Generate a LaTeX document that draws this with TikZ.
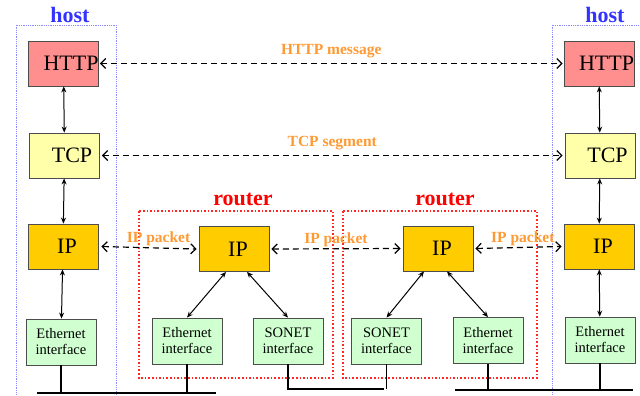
\documentclass[tikz,border=0pt]{standalone}
\usepackage{fontspec}
\setmainfont{Liberation Serif}
\usetikzlibrary{arrows.meta}

\definecolor{httpred}{RGB}{255,143,143}
\definecolor{tcpyellow}{RGB}{255,255,170}
\definecolor{ipgold}{RGB}{255,204,0}
\definecolor{ifgreen}{RGB}{208,255,208}
\definecolor{pduorange}{RGB}{255,153,51}
\definecolor{hostblue}{RGB}{51,51,255}
\definecolor{hostline}{RGB}{140,140,255}

\begin{document}
\begin{tikzpicture}[x=1pt, y=-1pt,
    box/.style={draw=black!70, line width=0.8pt, minimum width=70pt,
      minimum height=45pt, inner sep=0pt,
      font=\fontsize{22}{24}\selectfont},
    httpbox/.style={box, fill=httpred, execute at begin node=\hspace*{15pt}},
    tcpbox/.style={box, fill=tcpyellow, execute at begin node=\hspace*{15pt}},
    ipbox/.style={box, fill=ipgold, execute at begin node=\hspace*{8pt}},
    ifbox/.style={box, fill=ifgreen, minimum height=46pt, align=center,
      font=\fontsize{14.5}{16}\selectfont},
    pdu/.style={font=\bfseries\fontsize{15.5}{17}\selectfont,
      text=pduorange, inner sep=1.5pt},
    boxtitle/.style={font=\bfseries\fontsize{22}{24}\selectfont},
    peer/.style={<->, dash pattern=on 6pt off 4pt, line width=1.2pt,
      >={Straight Barb[length=5pt,width=10pt]}},
    stack/.style={<->, line width=1pt, >={Stealth[length=6pt,width=5pt]}},
    bus/.style={line width=1.6pt}]
  \useasboundingbox (0,0) rectangle (640,396);

  % hosts and routers
  \draw[hostline, densely dotted, line width=0.8pt]
    (16,400) |- (116,25) -- (116,400);
  \draw[hostline, densely dotted, line width=0.8pt] (552,400) |- (644,25);
  \draw[red!85!white, dotted, line width=1.6pt] (139,211) rectangle (333,378);
  \draw[red!85!white, dotted, line width=1.6pt] (343,211) rectangle (537,378);
  \node[boxtitle, text=hostblue] (host1) at (70,15) {host};
  \node[boxtitle, text=hostblue] (host2) at (605,15) {host};
  \node[boxtitle, text=red] (router1) at (243,199) {router};
  \node[boxtitle, text=red] (router2) at (445,199) {router};

  \begin{scope}
    \node[httpbox] (lhttp) at (63.5,63.5) {HTTP};
    \node[tcpbox] (ltcp) at (64.5,155.5) {TCP};
    \node[ipbox] (lip) at (63,246.5) {IP};
    \node[ifbox] (leth) at (61,342) {Ethernet\\interface};
  \end{scope}

  \begin{scope}
    \node[ipbox] (r1ip) at (234,249) {IP};
    \node[ifbox] (r1eth) at (187,341) {Ethernet\\interface};
    \node[ifbox] (r1son) at (288,341) {SONET\\interface};
    \node[ipbox] (r2ip) at (438,248.5) {IP};
    \node[ifbox] (r2son) at (386.5,341) {SONET\\interface};
    \node[ifbox] (r2eth) at (488,340.5) {Ethernet\\interface};
  \end{scope}

  \begin{scope}
    \node[httpbox] (rhttp) at (599,63.5) {HTTP};
    \node[tcpbox] (rtcp) at (600,155.5) {TCP};
    \node[ipbox] (rip) at (599,246.5) {IP};
    \node[ifbox] (reth) at (600,340) {Ethernet\\interface};
  \end{scope}

  % links
  \coordinate (busLw) at (37,393); \coordinate (busLe) at (216,393);
  \coordinate (busMw) at (287,389); \coordinate (busMe) at (384,389);
  \coordinate (busRw) at (455,390); \coordinate (busRe) at (633,390);

  \begin{scope}[bus]
    \draw (busLw) -- (busLe); \draw (busMw) -- (busMe);
    \draw (busRw) -- (busRe);
    \draw (leth.south) -- (leth.south |- busLw);
    \draw (r1eth.south) -- (r1eth.south |- busLw);
    \draw (r1son.south) -- (r1son.south |- busMw);
    \draw (r2son.south) -- (r2son.south |- busMw);
    \draw (r2eth.south) -- (r2eth.south |- busRw);
    \draw (reth.south) -- (reth.south |- busRw);
  \end{scope}

  \begin{scope}[stack]
    \draw (lhttp) -- (ltcp); \draw (ltcp) -- (lip); \draw (lip) -- (leth);
    \draw (rhttp) -- (rtcp); \draw (rtcp) -- (rip); \draw (rip) -- (reth);
    \draw ([xshift=-8pt]r1ip.south) -- (r1eth.north);
    \draw ([xshift=13pt]r1ip.south) -- (r1son.north);
    \draw ([xshift=-14pt]r2ip.south) -- (r2son.north);
    \draw ([xshift=9pt]r2ip.south) -- (r2eth.north);
  \end{scope}

  \begin{scope}[peer]
    \draw ([xshift=1pt]lhttp.east) -- node[pdu, above=3pt] {HTTP message}
      ([xshift=-1pt]rhttp.west);
    \draw ([xshift=2pt]ltcp.east) -- node[pdu, above=3pt] {TCP segment}
      ([xshift=-2pt]rtcp.west);
    \draw ([xshift=3pt]lip.east) -- node[pdu, above, pos=0.6] {IP packet}
      ([xshift=-2pt]r1ip.west);
    \draw ([xshift=2pt]r1ip.east) -- node[pdu, above] {IP packet}
      ([xshift=-2pt]r2ip.west);
    \draw ([xshift=2pt]r2ip.east) -- node[pdu, above, pos=0.55] {IP packet}
      ([xshift=-2pt]rip.west);
  \end{scope}
\end{tikzpicture}
\end{document}
